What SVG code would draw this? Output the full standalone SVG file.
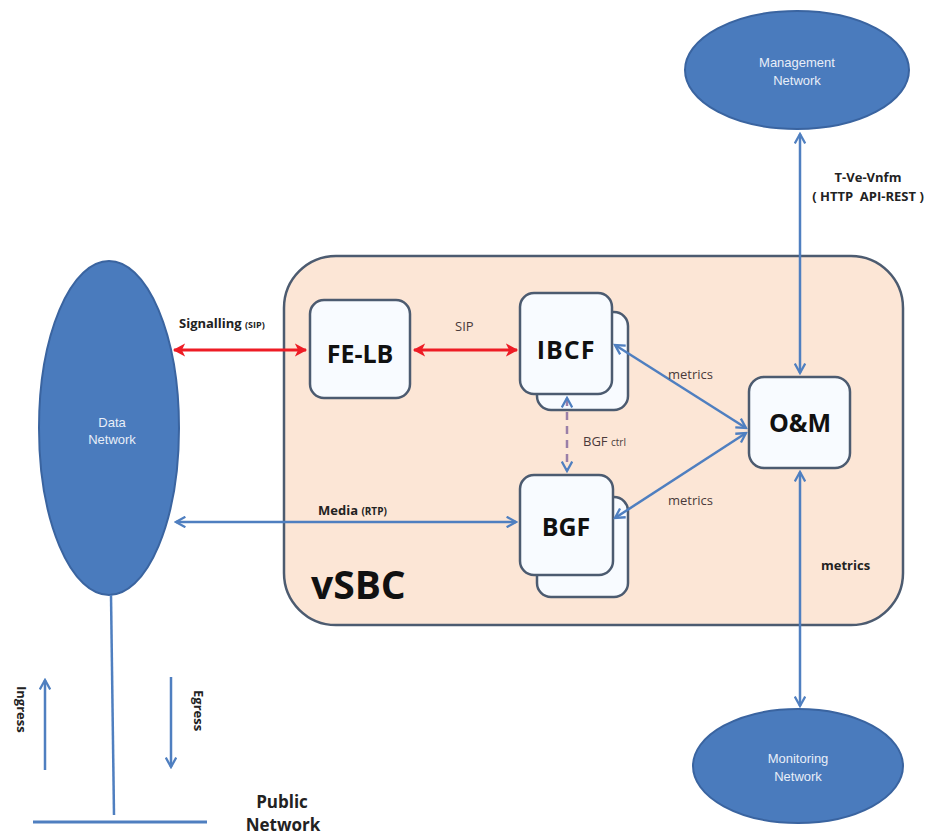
<svg xmlns="http://www.w3.org/2000/svg" width="946" height="838" viewBox="0 0 946 838">
<defs>
<style>
.net{fill:#4a7bbd;stroke:#3a64a0;stroke-width:2}
.nettxt{fill:#e8eef8;font-family:"Liberation Sans",Arial,sans-serif;font-size:13px;text-anchor:middle}
.box{fill:#f8fbff;stroke:#4c5b70;stroke-width:2.5}
.boxtxt{fill:#111;font-family:"Open Sans","Liberation Sans",sans-serif;font-weight:bold;font-size:25px;text-anchor:middle}
.lbl{fill:#222;font-family:"Open Sans","Liberation Sans",sans-serif;font-weight:bold;font-size:13px}
.lbln{fill:#4a3a3a;font-family:"Open Sans","Liberation Sans",sans-serif;font-size:13px}
.blue{stroke:#4f7fc0;stroke-width:2.5;fill:none}
.red{stroke:#ee1c25;stroke-width:3;fill:none}
</style>
<marker id="ab" viewBox="0 0 12 12" refX="10" refY="6" markerWidth="5" markerHeight="5" orient="auto-start-reverse" markerUnits="strokeWidth">
<path d="M1,1 L10,6 L1,11" fill="none" stroke="#4f7fc0" stroke-width="2.2"/>
</marker>
<marker id="ar" viewBox="0 0 12 12" refX="10" refY="6" markerWidth="4.5" markerHeight="4.5" orient="auto-start-reverse" markerUnits="strokeWidth">
<path d="M0,0 L11,6 L0,12 L3,6 z" fill="#ee1c25"/>
</marker>
</defs>
<rect width="946" height="838" fill="#ffffff"/>

<g id="vSBC">
<rect x="284" y="256" width="619" height="369" rx="52" ry="52" fill="#fce6d6" stroke="#4c5b70" stroke-width="2.5"/>
<text x="311" y="599" font-family="Open Sans,Liberation Sans,sans-serif" font-weight="bold" font-size="39" fill="#111">vSBC</text>
</g>

<g id="data-network">
<ellipse class="net" cx="109" cy="428" rx="70" ry="167"/>
<text class="nettxt" x="112" y="427">Data</text>
<text class="nettxt" x="112" y="444">Network</text>
</g>

<g id="management-network">
<ellipse class="net" cx="797" cy="70" rx="112" ry="59"/>
<text class="nettxt" x="797" y="67">Management</text>
<text class="nettxt" x="797" y="85">Network</text>
</g>

<g id="monitoring-network">
<ellipse class="net" cx="798" cy="766" rx="105" ry="57"/>
<text class="nettxt" x="798" y="763">Monitoring</text>
<text class="nettxt" x="798" y="781">Network</text>
</g>

<g id="public-network">
<line x1="111" y1="595" x2="114" y2="815" stroke="#4f7fc0" stroke-width="2.5"/>
<line x1="33" y1="822" x2="207" y2="822" stroke="#4f7fc0" stroke-width="3"/>
<text x="282" y="808" text-anchor="middle" font-family="Open Sans,Liberation Sans,sans-serif" font-weight="bold" font-size="17" fill="#222">Public</text>
<text x="283" y="831" text-anchor="middle" font-family="Open Sans,Liberation Sans,sans-serif" font-weight="bold" font-size="17" fill="#222">Network</text>
</g>

<g id="fe-lb">
<rect class="box" x="310" y="300" width="100" height="98" rx="14"/>
<text class="boxtxt" x="360" y="363">FE-LB</text>
</g>

<g id="ibcf">
<rect class="box" x="537" y="312" width="91" height="98" rx="14"/>
<rect class="box" x="520" y="293" width="92" height="101" rx="14"/>
<text class="boxtxt" x="566" y="359" letter-spacing="1">IBCF</text>
</g>

<g id="bgf">
<rect class="box" x="537" y="497" width="91" height="100" rx="14"/>
<rect class="box" x="520" y="475" width="93" height="100" rx="14"/>
<text class="boxtxt" x="566" y="536">BGF</text>
</g>

<g id="om">
<rect class="box" x="749" y="377" width="101" height="91" rx="15"/>
<text class="boxtxt" x="800" y="432">O&amp;M</text>
</g>

<g id="connectors">
<line class="red" x1="174" y1="350" x2="306" y2="350" marker-start="url(#ar)" marker-end="url(#ar)"/>
<line class="red" x1="414" y1="350" x2="517" y2="350" marker-start="url(#ar)" marker-end="url(#ar)"/>
<line class="blue" x1="176" y1="522" x2="516" y2="522" marker-start="url(#ab)" marker-end="url(#ab)"/>
<line class="blue" x1="615" y1="345" x2="746" y2="428" marker-start="url(#ab)" marker-end="url(#ab)"/>
<line class="blue" x1="615" y1="518" x2="746" y2="433" marker-start="url(#ab)" marker-end="url(#ab)"/>
<line x1="567" y1="398" x2="567" y2="471" stroke="#9a7fa8" stroke-width="2.5" stroke-dasharray="8,6" marker-start="url(#ab)" marker-end="url(#ab)"/>
<line class="blue" x1="800" y1="134" x2="800" y2="373" marker-start="url(#ab)" marker-end="url(#ab)"/>
<line class="blue" x1="800" y1="472" x2="800" y2="706" marker-start="url(#ab)" marker-end="url(#ab)"/>
<line class="blue" x1="45" y1="770" x2="45" y2="680" marker-end="url(#ab)"/>
<line class="blue" x1="171" y1="677" x2="171" y2="767" marker-end="url(#ab)"/>
</g>

<g id="labels">
<text class="lbl" x="179" y="328">Signalling <tspan font-size="9">(SIP)</tspan></text>
<text class="lbln" x="455" y="331">SIP</text>
<text class="lbl" x="318" y="515">Media <tspan font-size="10">(RTP)</tspan></text>
<text class="lbln" x="583" y="446">BGF <tspan font-size="10">ctrl</tspan></text>
<text class="lbln" x="668" y="379" font-size="14">metrics</text>
<text class="lbln" x="668" y="505" font-size="14">metrics</text>
<text class="lbl" x="821" y="570" font-size="14">metrics</text>
<text class="lbl" x="868" y="182" text-anchor="middle">T-Ve-Vnfm</text>
<text class="lbl" x="868" y="201" text-anchor="middle" font-size="12" xml:space="preserve">( HTTP  API-REST )</text>
<text class="lbl" x="17" y="686" font-size="14" transform="rotate(90 17 686)">Ingress</text>
<text class="lbl" x="194" y="690" font-size="14" transform="rotate(90 194 690)">Egress</text>
</g>
</svg>
